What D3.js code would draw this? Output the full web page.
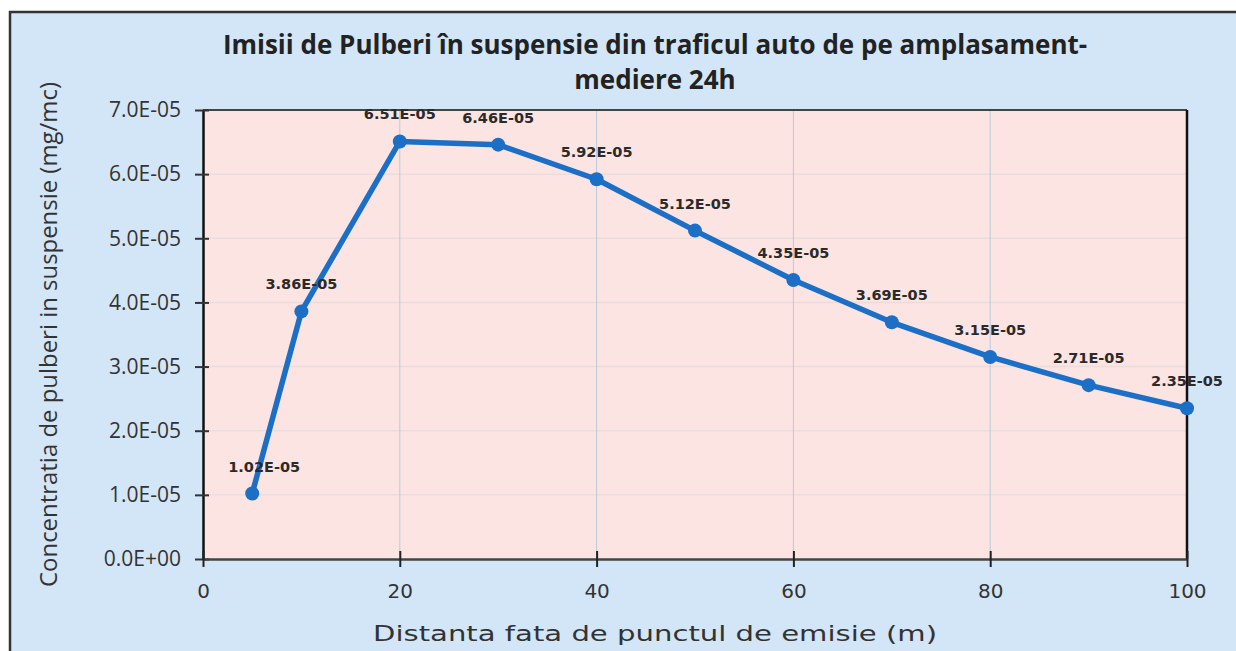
<!DOCTYPE html>
<html>
<head>
<meta charset="utf-8">
<script src="https://cdn.jsdelivr.net/npm/d3@7"></script>
<style>
  html, body { margin: 0; padding: 0; background: #fff; }
  svg { display: block; }
</style>
</head>
<body>
<div id="chart"></div>
<script>
const distances = [5, 10, 20, 30, 40, 50, 60, 70, 80, 90, 100];
const concentrations = [1.02e-5, 3.86e-5, 6.51e-5, 6.46e-5, 5.92e-5, 5.12e-5, 4.35e-5, 3.69e-5, 3.15e-5, 2.71e-5, 2.35e-5];
const pointLabels = ['1.02E-05', '3.86E-05', '6.51E-05', '6.46E-05', '5.92E-05', '5.12E-05', '4.35E-05', '3.69E-05', '3.15E-05', '2.71E-05', '2.35E-05'];
const xTicks = [0, 20, 40, 60, 80, 100];
const yTicks = [0, 1e-5, 2e-5, 3e-5, 4e-5, 5e-5, 6e-5, 7e-5];
const titleLines = ['Imisii de Pulberi în suspensie din traficul auto de pe amplasament-', 'mediere 24h'];

const width = 1236, height = 651;
const margin = { top: 110, right: 49, bottom: 92, left: 203 };

const x = d3.scaleLinear().domain([0, 100]).range([margin.left, width - margin.right]);
const y = d3.scaleLinear().domain([0, 7e-5]).range([height - margin.bottom, margin.top]);

const svg = d3.create('svg').attr('width', width).attr('height', height);

// outer chart area
svg.append('rect')
  .attr('x', 10).attr('y', 12).attr('width', width - 8).attr('height', height)
  .attr('fill', '#d3e6f8').attr('stroke', '#333').attr('stroke-width', 2.5);

// plot area
svg.append('rect')
  .attr('x', x(0)).attr('y', y(7e-5))
  .attr('width', x(100) - x(0)).attr('height', y(0) - y(7e-5))
  .attr('fill', '#fbe4e2');

// grid
svg.append('g').selectAll('line')
  .data(yTicks.slice(1, -1))
  .join('line')
  .attr('x1', x(0)).attr('x2', x(100))
  .attr('y1', d => y(d)).attr('y2', d => y(d))
  .attr('stroke', '#ecdcdc').attr('stroke-width', 1.5);

svg.append('g').selectAll('line')
  .data(xTicks.slice(1, -1))
  .join('line')
  .attr('x1', d => x(d)).attr('x2', d => x(d))
  .attr('y1', y(0)).attr('y2', y(7e-5))
  .attr('stroke', '#bcc8dc').attr('stroke-width', 1);

// plot border
svg.append('line').attr('x1', x(0)).attr('x2', x(100)).attr('y1', y(7e-5)).attr('y2', y(7e-5))
  .attr('stroke', '#444').attr('stroke-width', 2);
svg.append('line').attr('x1', x(100)).attr('x2', x(100)).attr('y1', y(7e-5)).attr('y2', y(0))
  .attr('stroke', '#111').attr('stroke-width', 2.5);

// axes
const yAxis = svg.append('g')
  .attr('transform', `translate(${x(0)},0)`)
  .call(d3.axisLeft(y).tickValues(yTicks).tickSize(0).tickPadding(22)
    .tickFormat(d => d === 0 ? '0.0E+00' : (d * 1e5).toFixed(1) + 'E-05'));
yAxis.select('.domain').attr('stroke', '#111').attr('stroke-width', 2.5);
yAxis.selectAll('.tick line').attr('x1', -8).attr('x2', 6).attr('stroke', '#333').attr('stroke-width', 2);
yAxis.selectAll('text')
  .attr('font-family', 'Open Sans, sans-serif')
  .attr('font-size', 21).attr('fill', '#333');

const xAxis = svg.append('g')
  .attr('transform', `translate(0,${y(0)})`)
  .call(d3.axisBottom(x).tickValues(xTicks).tickSize(0).tickPadding(25));
xAxis.select('.domain').attr('stroke', '#444').attr('stroke-width', 2.5);
xAxis.selectAll('.tick line').attr('y1', -8).attr('y2', 8).attr('stroke', '#222').attr('stroke-width', 2);
xAxis.selectAll('text')
  .attr('font-family', 'DejaVu Sans, sans-serif')
  .attr('font-size', 20).attr('fill', '#333');

// series
const points = distances.map((d, i) => ({ x: d, y: concentrations[i], label: pointLabels[i] }));

svg.append('path')
  .datum(points)
  .attr('fill', 'none')
  .attr('stroke', '#1c6fc6')
  .attr('stroke-width', 5.5)
  .attr('stroke-linejoin', 'round')
  .attr('d', d3.line().x(d => x(d.x)).y(d => y(d.y)));

svg.append('g').selectAll('circle')
  .data(points)
  .join('circle')
  .attr('cx', d => x(d.x)).attr('cy', d => y(d.y))
  .attr('r', 7)
  .attr('fill', '#1c6fc6');

svg.append('g').selectAll('text')
  .data(points)
  .join('text')
  .attr('x', d => x(d.x) + (d.x === 5 ? 12 : 0))
  .attr('y', d => y(d.y) - 22)
  .attr('text-anchor', 'middle')
  .attr('font-family', 'DejaVu Sans, sans-serif')
  .attr('font-weight', 'bold')
  .attr('font-size', 14.5)
  .attr('fill', '#2a2a2a')
  .text(d => d.label);

// title
svg.append('g').selectAll('text')
  .data(titleLines)
  .join('text')
  .attr('x', 655)
  .attr('y', (d, i) => 54 + i * 35)
  .attr('text-anchor', 'middle')
  .attr('font-family', 'Open Sans, sans-serif')
  .attr('font-weight', 'bold')
  .attr('font-size', 26)
  .attr('fill', '#222')
  .text(d => d);

// axis titles
svg.append('text')
  .attr('transform', `translate(57,${(y(0) + y(7e-5)) / 2}) rotate(-90)`)
  .attr('text-anchor', 'middle')
  .attr('font-family', 'Open Sans, sans-serif')
  .attr('font-size', 23)
  .attr('textLength', 505)
  .attr('lengthAdjust', 'spacingAndGlyphs')
  .attr('fill', '#333')
  .text('Concentratia de pulberi in suspensie (mg/mc)');

svg.append('text')
  .attr('x', 655).attr('y', 641)
  .attr('text-anchor', 'middle')
  .attr('font-family', 'DejaVu Sans, sans-serif')
  .attr('font-size', 22)
  .attr('textLength', 564)
  .attr('lengthAdjust', 'spacingAndGlyphs')
  .attr('fill', '#333')
  .text('Distanta fata de punctul de emisie (m)');

d3.select('#chart').append(() => svg.node());
</script>
</body>
</html>
